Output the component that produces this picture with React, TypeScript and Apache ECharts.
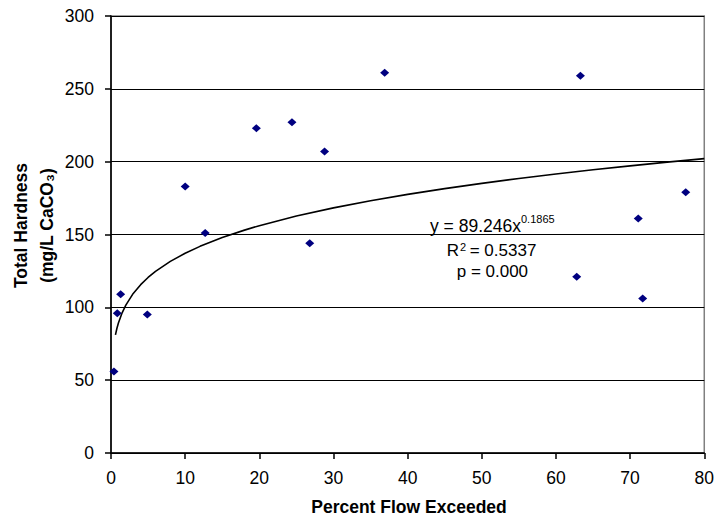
import React, { useEffect, useRef } from "react";
import * as echarts from "echarts";

const percentFlow = [0.4, 0.85, 1.3, 4.9, 10.0, 12.7, 19.6, 24.4, 26.8, 28.8, 36.9, 62.8, 63.3, 71.1, 71.7, 77.5];
const hardness = [56, 96, 109, 95, 183, 151, 223, 227, 144, 207, 261, 121, 259, 161, 106, 179];

const trendCoef = 89.246;
const trendExp = 0.1865;
const trendX = [0.6, 0.8, 1, 1.5, 2, 3, 4, 5, 6, 8, 10, 12, 15, 18, 20, 25, 30, 35, 40, 45, 50, 55, 60, 65, 70, 75, 80];

const xTicks = { min: 0, max: 80, interval: 10 };
const yTicks = { min: 0, max: 300, interval: 50 };

const xTitle = "Percent Flow Exceeded";
const yTitle1 = "Total Hardness";
const yTitle2 = "(mg/L CaCO₃)";
const eqMain = "y = 89.246x";
const eqExp = "0.1865";
const r2Label = "R";
const r2Sup = "2";
const r2Value = "= 0.5337";
const pLabel = "p = 0.000";

const FONT = "'Liberation Sans', Arial, sans-serif";

export default function App() {
  const ref = useRef<HTMLDivElement>(null);
  useEffect(() => {
    if (!ref.current) return;
    const chart = echarts.init(ref.current, undefined, { renderer: "svg" });
    const trend = trendX.map((x) => [x, trendCoef * Math.pow(x, trendExp)]);
    const txt = (x: number, y: number, text: string, size: number, extra: any = {}) => ({
      type: "text",
      x,
      y,
      z: 10,
      ...extra,
      style: {
        text,
        fill: "#000",
        fontFamily: FONT,
        fontSize: size,
        align: "left",
        verticalAlign: "middle",
        ...(extra.style || {}),
      },
    });
    chart.setOption({
      animation: false,
      backgroundColor: "#ffffff",
      grid: {
        left: 111,
        right: 10,
        top: 16,
        bottom: 62,
        show: true,
        borderColor: "#808080",
        borderWidth: 1.5,
      },
      xAxis: {
        type: "value",
        min: xTicks.min,
        max: xTicks.max,
        interval: xTicks.interval,
        axisLine: { show: true, onZero: false, lineStyle: { color: "#000", width: 1.6 } },
        axisTick: { show: true, inside: false, length: 6, lineStyle: { color: "#000", width: 1.5 } },
        axisLabel: { fontFamily: FONT, fontSize: 17.5, color: "#000", margin: 16 },
        splitLine: { show: false },
      },
      yAxis: {
        type: "value",
        min: yTicks.min,
        max: yTicks.max,
        interval: yTicks.interval,
        axisLine: { show: true, onZero: false, lineStyle: { color: "#000", width: 1.6 } },
        axisTick: { show: true, inside: false, length: 6, lineStyle: { color: "#000", width: 1.5 } },
        axisLabel: { fontFamily: FONT, fontSize: 17.5, color: "#000", margin: 17, padding: [7, 0, 0, 0] },
        splitLine: { show: true, lineStyle: { color: "#000", width: 1.2 } },
      },
      series: [
        {
          type: "line",
          data: trend,
          smooth: false,
          showSymbol: false,
          symbol: "none",
          lineStyle: { color: "#000", width: 1.6 },
          z: 3,
        },
        {
          type: "scatter",
          data: percentFlow.map((x, i) => [x, hardness[i]]),
          symbol: "diamond",
          symbolSize: [9, 8],
          itemStyle: { color: "#000080", opacity: 1 },
          z: 4,
        },
      ],
      graphic: [
        txt(409, 506.5, xTitle, 17.5, { style: { fontWeight: "bold", align: "center" } }),
        txt(21, 225.5, yTitle1, 17.5, { rotation: Math.PI / 2, style: { fontWeight: "bold", align: "center" } }),
        txt(47.4, 225.5, yTitle2, 17.5, { rotation: Math.PI / 2, style: { fontWeight: "bold", align: "center" } }),
        txt(430, 225.6, eqMain, 17.5),
        txt(521, 218.6, eqExp, 11),
        txt(446.7, 250.7, r2Label, 17),
        txt(460, 246.5, r2Sup, 11),
        txt(469.7, 250.7, r2Value, 17),
        txt(456.7, 271.3, pLabel, 17),
      ],
    });
    return () => chart.dispose();
  }, []);
  return (
    <div
      ref={ref}
      style={{ position: "absolute", left: 0, top: 0, width: 717, height: 515 }}
    />
  );
}
